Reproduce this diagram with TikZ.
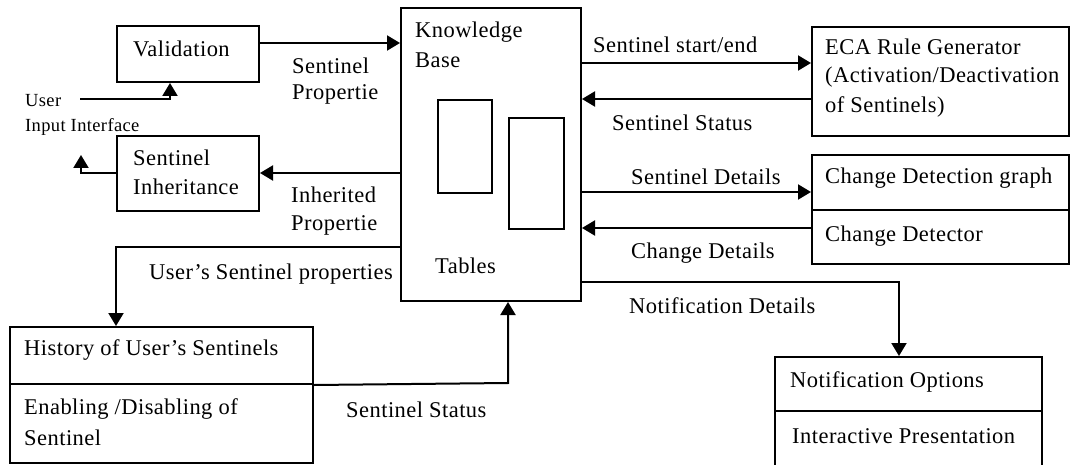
\documentclass[tikz,border=0pt]{standalone}
\usepackage{fontspec}
\setmainfont[LetterSpace=2]{Liberation Serif}
\usetikzlibrary{arrows.meta}
\begin{document}
\begin{tikzpicture}[x=1pt,y=-1pt,
  box/.style={draw, line width=2pt, inner sep=0pt, anchor=north west},
  arr/.style={line width=2pt, -{Triangle[length=13pt,width=15pt]}},
  ln/.style={line width=2pt},
  lbl/.style={anchor=base west, inner sep=0pt, font=\fontsize{22.5}{26}\selectfont},
  small/.style={anchor=base west, inner sep=0pt, font=\fontsize{18.5}{21}\selectfont}]
\useasboundingbox (0,0) rectangle (1070,465);
\clip (0,0) rectangle (1070,465);

% boxes
\node[box, minimum width=142pt, minimum height=56pt] (val) at (116,25) {};
\node[box, minimum width=142pt, minimum height=75pt] (inh) at (116,135) {};
\node[box, minimum width=180pt, minimum height=293pt] (kb) at (400,7) {};
\node[box, minimum width=54pt, minimum height=93pt] (t1) at (437,99) {};
\node[box, minimum width=55pt, minimum height=111pt] (t2) at (508,117) {};
\node[box, minimum width=303pt, minimum height=57pt] (hist1) at (9,326) {};
\node[box, minimum width=303pt, minimum height=79pt] (hist2) at (9,383) {};
\node[box, minimum width=257pt, minimum height=109pt] (eca) at (811,26) {};
\node[box, minimum width=257pt, minimum height=55pt] (cd1) at (811,154) {};
\node[box, minimum width=257pt, minimum height=54pt] (cd2) at (811,209) {};
\node[box, minimum width=267pt, minimum height=54pt] (not1) at (774,356) {};
\node[box, minimum width=267pt, minimum height=70pt] (not2) at (774,410) {};

% free ends
\coordinate (ui) at (80,99);
\coordinate (inhout) at (81,155);

% connectors
\draw[arr] (val.east |- 0,43) -- (kb.west |- 0,43);
\draw[arr] (ui) -- (170,99) -- (val.south -| 170,0);
\draw[arr] (kb.west |- 0,173) -- (inh.east |- 0,173);
\draw[arr] (inh.west |- 0,173) -- (inhout |- 0,173) -- (inhout);
\draw[arr] (kb.west |- 0,247) -- (116,247) -- (hist1.north -| 116,0);
\draw[arr] (hist1.south east) -- (508,383) -- (kb.south -| 508,0);
\draw[arr] (kb.east |- 0,63) -- (eca.west |- 0,63);
\draw[arr] (eca.west |- 0,99) -- (kb.east |- 0,99);
\draw[arr] (kb.east |- 0,192) -- (cd1.west |- 0,192);
\draw[arr] (cd2.west |- 0,228) -- (kb.east |- 0,228);
\draw[arr] (kb.east |- 0,282) -- (899,282) -- (not1.north -| 899,0);

% texts
\node[lbl] (tval) at (133,57) {Validation};
\node[lbl] (tsp1) at (292,74) {Sentinel};
\node[lbl] (tsp2) at (292,100) {Propertie};
\node[small] (tui1) at (25,107) {User};
\node[small] (tui2) at (25,132) {Input Interface};
\node[lbl] (tinh1) at (133,166) {Sentinel};
\node[lbl] (tinh2) at (133,195) {Inheritance};
\node[lbl] (tip1) at (291,203) {Inherited};
\node[lbl] (tip2) at (291,230) {Propertie};
\node[lbl] (tusp) at (149,279) {User’s Sentinel properties};
\node[lbl] (ttab) at (435,273) {Tables};
\node[lbl] (tkb1) at (415,38) {Knowledge};
\node[lbl] (tkb2) at (415,68) {Base};
\node[lbl] (thist) at (24,355) {History of User’s Sentinels};
\node[lbl] (ten1) at (24,414) {Enabling /Disabling of};
\node[lbl] (ten2) at (24,445) {Sentinel};
\node[lbl] (tss1) at (346,417) {Sentinel Status};
\node[lbl] (tse) at (593,53) {Sentinel start/end};
\node[lbl] (tss2) at (612,131) {Sentinel Status};
\node[lbl] (tsd) at (631,185) {Sentinel Details};
\node[lbl] (tcd) at (631,258) {Change Details};
\node[lbl] (tnd) at (629,313) {Notification Details};
\node[lbl] (teca1) at (825,55) {ECA Rule Generator};
\node[lbl] (teca2) at (825,83) {(Activation/Deactivation};
\node[lbl] (teca3) at (825,113) {of Sentinels)};
\node[lbl] (tcdg) at (825,183) {Change Detection graph};
\node[lbl] (tcdt) at (825,241) {Change Detector};
\node[lbl] (tno) at (790,387) {Notification Options};
\node[lbl] (tip) at (792,443) {Interactive Presentation};
\end{tikzpicture}
\end{document}
